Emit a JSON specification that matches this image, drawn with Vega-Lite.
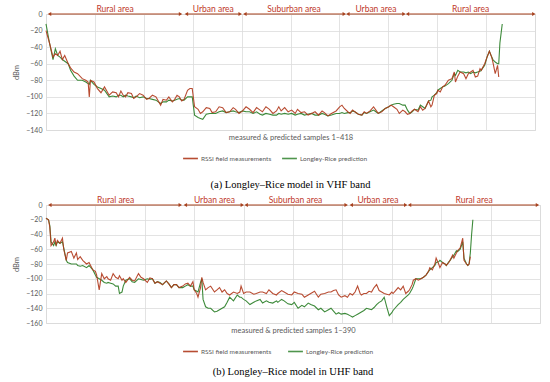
{
  "$schema": "https://vega.github.io/schema/vega-lite/v6.json",
  "padding": {"left": 12, "top": 4, "right": 5, "bottom": 2},
  "spacing": 4,
  "config": {
    "font": "Lato",
    "view": {"stroke": "#d9d9d9"},
    "axis": {"gridColor": "#dcdcdc", "gridWidth": 0.8},
    "axisY": {"grid": true, "labelOverlap": false, "ticks": false, "domain": false, "labelFontSize": 7, "labelColor": "#595959", "labelPadding": 4, "titleFontSize": 7.5, "titleFontWeight": "normal", "titleColor": "#595959", "titlePadding": 5},
    "axisX": {"labels": false, "ticks": false, "domain": false, "grid": true, "titleFontSize": 7.5, "titleFontWeight": "normal", "titleColor": "#595959", "titlePadding": 3},
    "title": {"font": "Liberation Serif", "fontSize": 10.5, "fontWeight": "normal", "color": "#000000"},
    "legend": {"orient": "none", "direction": "horizontal", "title": null, "labelFontSize": 6.5, "labelColor": "#595959", "symbolType": "stroke", "symbolStrokeWidth": 1.6, "symbolSize": 220, "columnPadding": 6, "labelOffset": 2}
  },
  "resolve": {"scale": {"color": "independent"}, "legend": {"color": "independent"}},
  "datasets": {
    "vhf": [
      {"s":0,"rssi":-20,"lr":-12},{"s":3,"rssi":-35,"lr":-35},{"s":6,"rssi":-52,"lr":-55},{"s":8,"rssi":-48,"lr":-42},{"s":10,"rssi":-50,"lr":-50},{"s":12,"rssi":-45,"lr":-52},{"s":14,"rssi":-55,"lr":-55},{"s":16,"rssi":-50,"lr":-57},{"s":19,"rssi":-60,"lr":-60},{"s":21,"rssi":-65,"lr":-68},{"s":24,"rssi":-70,"lr":-75},{"s":27,"rssi":-72,"lr":-80},{"s":31,"rssi":-78,"lr":-80},{"s":34,"rssi":-80,"lr":-82},{"s":36,"rssi":-82,"lr":-84},{"s":37,"rssi":-100,"lr":-85},{"s":38,"rssi":-80,"lr":-80},{"s":41,"rssi":-82,"lr":-85},{"s":44,"rssi":-90,"lr":-88},{"s":47,"rssi":-95,"lr":-90},{"s":50,"rssi":-88,"lr":-92},{"s":54,"rssi":-98,"lr":-100},{"s":57,"rssi":-94,"lr":-99},{"s":60,"rssi":-95,"lr":-100},{"s":62,"rssi":-100,"lr":-98},{"s":64,"rssi":-93,"lr":-98},{"s":66,"rssi":-98,"lr":-100},{"s":68,"rssi":-100,"lr":-98},{"s":70,"rssi":-95,"lr":-99},{"s":73,"rssi":-96,"lr":-100},{"s":75,"rssi":-102,"lr":-101},{"s":77,"rssi":-100,"lr":-99},{"s":80,"rssi":-96,"lr":-101},{"s":83,"rssi":-98,"lr":-100},{"s":86,"rssi":-103,"lr":-102},{"s":88,"rssi":-102,"lr":-102},{"s":91,"rssi":-98,"lr":-103},{"s":94,"rssi":-100,"lr":-104},{"s":96,"rssi":-105,"lr":-106},{"s":98,"rssi":-110,"lr":-108},{"s":100,"rssi":-103,"lr":-106},{"s":103,"rssi":-104,"lr":-106},{"s":105,"rssi":-100,"lr":-104},{"s":108,"rssi":-106,"lr":-105},{"s":110,"rssi":-103,"lr":-104},{"s":112,"rssi":-98,"lr":-103},{"s":114,"rssi":-100,"lr":-102},{"s":116,"rssi":-105,"lr":-104},{"s":118,"rssi":-103,"lr":-104},{"s":121,"rssi":-92,"lr":-100},{"s":123,"rssi":-90,"lr":-100},{"s":125,"rssi":-90,"lr":-100},{"s":127,"rssi":-112,"lr":-122},{"s":130,"rssi":-115,"lr":-125},{"s":132,"rssi":-120,"lr":-126},{"s":134,"rssi":-118,"lr":-127},{"s":137,"rssi":-113,"lr":-121},{"s":140,"rssi":-114,"lr":-120},{"s":142,"rssi":-119,"lr":-120},{"s":145,"rssi":-118,"lr":-120},{"s":148,"rssi":-112,"lr":-118},{"s":151,"rssi":-113,"lr":-117},{"s":154,"rssi":-119,"lr":-119},{"s":157,"rssi":-118,"lr":-118},{"s":160,"rssi":-113,"lr":-117},{"s":162,"rssi":-115,"lr":-118},{"s":165,"rssi":-120,"lr":-119},{"s":168,"rssi":-117,"lr":-117},{"s":171,"rssi":-112,"lr":-118},{"s":174,"rssi":-115,"lr":-118},{"s":177,"rssi":-119,"lr":-120},{"s":180,"rssi":-113,"lr":-118},{"s":183,"rssi":-116,"lr":-121},{"s":185,"rssi":-118,"lr":-122},{"s":188,"rssi":-112,"lr":-120},{"s":191,"rssi":-115,"lr":-121},{"s":194,"rssi":-120,"lr":-122},{"s":197,"rssi":-117,"lr":-122},{"s":199,"rssi":-112,"lr":-120},{"s":201,"rssi":-117,"lr":-121},{"s":204,"rssi":-113,"lr":-120},{"s":207,"rssi":-118,"lr":-121},{"s":210,"rssi":-116,"lr":-120},{"s":213,"rssi":-120,"lr":-122},{"s":215,"rssi":-115,"lr":-121},{"s":218,"rssi":-119,"lr":-120},{"s":221,"rssi":-118,"lr":-122},{"s":224,"rssi":-122,"lr":-121},{"s":227,"rssi":-120,"lr":-120},{"s":230,"rssi":-118,"lr":-122},{"s":233,"rssi":-122,"lr":-122},{"s":236,"rssi":-117,"lr":-120},{"s":238,"rssi":-119,"lr":-121},{"s":241,"rssi":-123,"lr":-123},{"s":244,"rssi":-120,"lr":-122},{"s":248,"rssi":-117,"lr":-120},{"s":251,"rssi":-112,"lr":-120},{"s":253,"rssi":-110,"lr":-119},{"s":255,"rssi":-114,"lr":-120},{"s":258,"rssi":-118,"lr":-119},{"s":260,"rssi":-120,"lr":-119},{"s":262,"rssi":-116,"lr":-117},{"s":264,"rssi":-118,"lr":-118},{"s":267,"rssi":-121,"lr":-121},{"s":270,"rssi":-122,"lr":-122},{"s":272,"rssi":-118,"lr":-119},{"s":274,"rssi":-120,"lr":-120},{"s":277,"rssi":-117,"lr":-118},{"s":280,"rssi":-112,"lr":-116},{"s":282,"rssi":-116,"lr":-118},{"s":284,"rssi":-120,"lr":-120},{"s":287,"rssi":-118,"lr":-117},{"s":290,"rssi":-114,"lr":-114},{"s":293,"rssi":-112,"lr":-112},{"s":295,"rssi":-110,"lr":-110},{"s":297,"rssi":-112,"lr":-109},{"s":300,"rssi":-115,"lr":-108},{"s":302,"rssi":-120,"lr":-108},{"s":305,"rssi":-116,"lr":-110},{"s":307,"rssi":-118,"lr":-110},{"s":309,"rssi":-121,"lr":-116},{"s":311,"rssi":-120,"lr":-120},{"s":313,"rssi":-117,"lr":-118},{"s":315,"rssi":-115,"lr":-115},{"s":318,"rssi":-118,"lr":-116},{"s":320,"rssi":-112,"lr":-110},{"s":322,"rssi":-116,"lr":-112},{"s":324,"rssi":-114,"lr":-114},{"s":326,"rssi":-108,"lr":-108},{"s":327,"rssi":-105,"lr":-105},{"s":329,"rssi":-112,"lr":-104},{"s":330,"rssi":-110,"lr":-100},{"s":332,"rssi":-98,"lr":-98},{"s":334,"rssi":-96,"lr":-95},{"s":335,"rssi":-92,"lr":-92},{"s":337,"rssi":-94,"lr":-90},{"s":339,"rssi":-88,"lr":-88},{"s":341,"rssi":-86,"lr":-87},{"s":344,"rssi":-80,"lr":-84},{"s":347,"rssi":-78,"lr":-80},{"s":349,"rssi":-70,"lr":-72},{"s":350,"rssi":-82,"lr":-74},{"s":352,"rssi":-75,"lr":-68},{"s":354,"rssi":-70,"lr":-70},{"s":357,"rssi":-72,"lr":-70},{"s":359,"rssi":-78,"lr":-71},{"s":361,"rssi":-72,"lr":-70},{"s":363,"rssi":-70,"lr":-72},{"s":365,"rssi":-68,"lr":-70},{"s":367,"rssi":-76,"lr":-71},{"s":369,"rssi":-75,"lr":-70},{"s":371,"rssi":-66,"lr":-69},{"s":372,"rssi":-68,"lr":-68},{"s":375,"rssi":-60,"lr":-62},{"s":377,"rssi":-52,"lr":-52},{"s":379,"rssi":-45,"lr":-45},{"s":381,"rssi":-52,"lr":-52},{"s":382,"rssi":-58,"lr":-55},{"s":384,"rssi":-72,"lr":-58},{"s":386,"rssi":-62,"lr":-60},{"s":387,"rssi":-76,"lr":-60},{"s":388,"rssi":null,"lr":-35},{"s":390,"rssi":null,"lr":-12}
    ],
    "uhf": [
      {"s":0,"rssi":-18,"lr":-18},{"s":2,"rssi":-20,"lr":-20},{"s":3,"rssi":-30,"lr":-28},{"s":4,"rssi":-55,"lr":-50},{"s":6,"rssi":-50,"lr":-55},{"s":7,"rssi":-45,"lr":-50},{"s":8,"rssi":-55,"lr":-55},{"s":9,"rssi":-48,"lr":-50},{"s":11,"rssi":-52,"lr":-52},{"s":13,"rssi":-45,"lr":-50},{"s":14,"rssi":-60,"lr":-58},{"s":16,"rssi":-75,"lr":-75},{"s":17,"rssi":-65,"lr":-78},{"s":20,"rssi":-63,"lr":-80},{"s":22,"rssi":-72,"lr":-80},{"s":24,"rssi":-65,"lr":-80},{"s":25,"rssi":-74,"lr":-82},{"s":27,"rssi":-70,"lr":-83},{"s":29,"rssi":-75,"lr":-82},{"s":32,"rssi":-80,"lr":-85},{"s":34,"rssi":-78,"lr":-82},{"s":37,"rssi":-88,"lr":-88},{"s":39,"rssi":-90,"lr":-95},{"s":40,"rssi":-95,"lr":-98},{"s":42,"rssi":-115,"lr":-100},{"s":44,"rssi":-93,"lr":-102},{"s":46,"rssi":-100,"lr":-105},{"s":48,"rssi":-97,"lr":-106},{"s":49,"rssi":-100,"lr":-105},{"s":51,"rssi":-102,"lr":-106},{"s":53,"rssi":-93,"lr":-107},{"s":55,"rssi":-98,"lr":-110},{"s":57,"rssi":-100,"lr":-110},{"s":58,"rssi":-96,"lr":-120},{"s":60,"rssi":-102,"lr":-118},{"s":61,"rssi":-100,"lr":-110},{"s":63,"rssi":-105,"lr":-102},{"s":66,"rssi":-98,"lr":-100},{"s":68,"rssi":-102,"lr":-104},{"s":70,"rssi":-103,"lr":-105},{"s":73,"rssi":-93,"lr":-100},{"s":75,"rssi":-98,"lr":-101},{"s":77,"rssi":-100,"lr":-102},{"s":80,"rssi":-105,"lr":-100},{"s":82,"rssi":-99,"lr":-101},{"s":84,"rssi":-100,"lr":-100},{"s":86,"rssi":-106,"lr":-106},{"s":88,"rssi":-104,"lr":-104},{"s":90,"rssi":-106,"lr":-105},{"s":92,"rssi":-108,"lr":-108},{"s":95,"rssi":-103,"lr":-103},{"s":97,"rssi":-107,"lr":-107},{"s":99,"rssi":-112,"lr":-112},{"s":101,"rssi":-108,"lr":-108},{"s":103,"rssi":-108,"lr":-108},{"s":105,"rssi":-112,"lr":-112},{"s":108,"rssi":-110,"lr":-112},{"s":110,"rssi":-107,"lr":-110},{"s":112,"rssi":-106,"lr":-108},{"s":114,"rssi":-110,"lr":-110},{"s":116,"rssi":-104,"lr":-110},{"s":117,"rssi":-115,"lr":-115},{"s":119,"rssi":-120,"lr":-117},{"s":120,"rssi":-125,"lr":-118},{"s":122,"rssi":-112,"lr":-105},{"s":123,"rssi":-98,"lr":-100},{"s":124,"rssi":-105,"lr":-128},{"s":126,"rssi":-115,"lr":-138},{"s":128,"rssi":-112,"lr":-140},{"s":130,"rssi":-110,"lr":-140},{"s":133,"rssi":-118,"lr":-145},{"s":135,"rssi":-115,"lr":-144},{"s":137,"rssi":-112,"lr":-142},{"s":139,"rssi":-118,"lr":-140},{"s":141,"rssi":-115,"lr":-138},{"s":143,"rssi":-120,"lr":-132},{"s":145,"rssi":-122,"lr":-125},{"s":148,"rssi":-118,"lr":-130},{"s":151,"rssi":-120,"lr":-122},{"s":153,"rssi":-118,"lr":-125},{"s":154,"rssi":-110,"lr":-125},{"s":156,"rssi":-120,"lr":-128},{"s":158,"rssi":-118,"lr":-130},{"s":161,"rssi":-118,"lr":-135},{"s":164,"rssi":-121,"lr":-132},{"s":166,"rssi":-120,"lr":-130},{"s":169,"rssi":-118,"lr":-128},{"s":171,"rssi":-118,"lr":-133},{"s":174,"rssi":-120,"lr":-130},{"s":176,"rssi":-115,"lr":-132},{"s":179,"rssi":-120,"lr":-133},{"s":182,"rssi":-122,"lr":-130},{"s":183,"rssi":-120,"lr":-132},{"s":186,"rssi":-116,"lr":-128},{"s":188,"rssi":-118,"lr":-130},{"s":191,"rssi":-121,"lr":-134},{"s":194,"rssi":-122,"lr":-135},{"s":196,"rssi":-118,"lr":-132},{"s":199,"rssi":-120,"lr":-140},{"s":202,"rssi":-121,"lr":-136},{"s":204,"rssi":-125,"lr":-138},{"s":207,"rssi":-122,"lr":-133},{"s":209,"rssi":-120,"lr":-135},{"s":212,"rssi":-117,"lr":-137},{"s":215,"rssi":-125,"lr":-142},{"s":217,"rssi":-121,"lr":-140},{"s":220,"rssi":-120,"lr":-145},{"s":223,"rssi":-118,"lr":-142},{"s":225,"rssi":-118,"lr":-140},{"s":227,"rssi":-116,"lr":-144},{"s":229,"rssi":-115,"lr":-148},{"s":231,"rssi":-122,"lr":-146},{"s":233,"rssi":-125,"lr":-148},{"s":236,"rssi":-123,"lr":-147},{"s":238,"rssi":-125,"lr":-148},{"s":240,"rssi":-120,"lr":-150},{"s":242,"rssi":-122,"lr":-152},{"s":244,"rssi":-118,"lr":-150},{"s":246,"rssi":-110,"lr":-148},{"s":248,"rssi":-120,"lr":-146},{"s":249,"rssi":-122,"lr":-145},{"s":251,"rssi":-120,"lr":-143},{"s":253,"rssi":-120,"lr":-140},{"s":255,"rssi":-117,"lr":-141},{"s":257,"rssi":-118,"lr":-142},{"s":259,"rssi":-112,"lr":-139},{"s":261,"rssi":-108,"lr":-135},{"s":263,"rssi":-116,"lr":-132},{"s":265,"rssi":-118,"lr":-130},{"s":267,"rssi":-120,"lr":-125},{"s":269,"rssi":-121,"lr":-138},{"s":271,"rssi":-122,"lr":-150},{"s":273,"rssi":-118,"lr":-146},{"s":274,"rssi":-120,"lr":-143},{"s":276,"rssi":-116,"lr":-139},{"s":278,"rssi":-112,"lr":-135},{"s":280,"rssi":-115,"lr":-132},{"s":282,"rssi":-110,"lr":-128},{"s":284,"rssi":-120,"lr":-125},{"s":286,"rssi":-117,"lr":-122},{"s":287,"rssi":-115,"lr":-120},{"s":289,"rssi":-108,"lr":-114},{"s":290,"rssi":-102,"lr":-110},{"s":292,"rssi":-100,"lr":-100},{"s":294,"rssi":-102,"lr":-100},{"s":296,"rssi":-100,"lr":-100},{"s":298,"rssi":-98,"lr":-98},{"s":300,"rssi":-95,"lr":-95},{"s":302,"rssi":-90,"lr":-90},{"s":303,"rssi":-85,"lr":-88},{"s":305,"rssi":-88,"lr":-85},{"s":307,"rssi":-80,"lr":-82},{"s":308,"rssi":-72,"lr":-78},{"s":310,"rssi":-80,"lr":-77},{"s":311,"rssi":-85,"lr":-75},{"s":313,"rssi":-78,"lr":-78},{"s":315,"rssi":-80,"lr":-80},{"s":316,"rssi":-82,"lr":-82},{"s":318,"rssi":-78,"lr":-77},{"s":319,"rssi":-75,"lr":-75},{"s":321,"rssi":-68,"lr":-70},{"s":322,"rssi":-72,"lr":-68},{"s":324,"rssi":-65,"lr":-62},{"s":325,"rssi":-62,"lr":-63},{"s":327,"rssi":-58,"lr":-60},{"s":329,"rssi":-45,"lr":-50},{"s":330,"rssi":-75,"lr":-72},{"s":332,"rssi":-80,"lr":-80},{"s":333,"rssi":-82,"lr":-82},{"s":334,"rssi":-80,"lr":-80},{"s":335,"rssi":-70,"lr":-65},{"s":336,"rssi":null,"lr":-40},{"s":337,"rssi":null,"lr":-20}
    ],
    "zonesA": [
      {"label":"Rural area","start":3,"end":115,"mid":59},
      {"label":"Urban area","start":120,"end":166,"mid":143},
      {"label":"Suburban area","start":170,"end":255,"mid":212},
      {"label":"Urban area","start":258,"end":306,"mid":282},
      {"label":"Rural area","start":309,"end":417,"mid":363}
    ],
    "zonesB": [
      {"label":"Rural area","start":3,"end":106,"mid":55},
      {"label":"Urban area","start":110,"end":155,"mid":133},
      {"label":"Suburban area","start":158,"end":237,"mid":197},
      {"label":"Urban area","start":241,"end":284,"mid":262},
      {"label":"Rural area","start":287,"end":388,"mid":338}
    ]
  },
  "vconcat": [
    {
      "width": 489, "height": 116,
      "title": {"text": "(a) Longley–Rice model in VHF band", "orient": "bottom", "offset": 18},
      "layer": [
        {
          "data": {"name": "vhf"},
          "mark": {"type": "line", "strokeWidth": 1.1},
          "encoding": {
            "x": {"field": "s", "type": "quantitative", "scale": {"domain": [0, 418], "nice": false},
                  "axis": {"values": [0,41.8,83.6,125.4,167.2,209,250.8,292.6,334.4,376.2,418], "title": "measured & predicted samples 1–418"}},
            "y": {"field": "lr", "type": "quantitative", "scale": {"domain": [-140, 0], "nice": false},
                  "axis": {"values": [-140,-120,-100,-80,-60,-40,-20,0], "title": "dBm"}},
            "color": {"datum": "Longley-Rice prediction", "type": "nominal", "scale": {"domain": ["RSSI field measurements", "Longley-Rice prediction"], "range": ["#b0391c", "#3d8a3a"]}, "legend": {"legendX": 136, "legendY": 136}}
          }
        },
        {
          "data": {"name": "vhf"},
          "mark": {"type": "line", "strokeWidth": 1.1, "opacity": 0.9},
          "encoding": {
            "x": {"field": "s", "type": "quantitative", "axis": {"values": [0,41.8,83.6,125.4,167.2,209,250.8,292.6,334.4,376.2,418], "title": "measured & predicted samples 1–418"}},
            "y": {"field": "rssi", "type": "quantitative", "axis": {"values": [-140,-120,-100,-80,-60,-40,-20,0], "title": "dBm"}},
            "color": {"datum": "RSSI field measurements", "type": "nominal"}
          }
        },
        {
          "data": {"name": "zonesA"},
          "mark": {"type": "rule", "color": "#a8421f", "strokeWidth": 1.2},
          "encoding": {"x": {"field": "start", "type": "quantitative", "axis": {"values": [0,41.8,83.6,125.4,167.2,209,250.8,292.6,334.4,376.2,418], "title": "measured & predicted samples 1–418"}}, "x2": {"field": "end"}, "y": {"datum": 0, "type": "quantitative", "axis": {"values": [-140,-120,-100,-80,-60,-40,-20,0], "title": "dBm"}}}
        },
        {
          "data": {"name": "zonesA"},
          "mark": {"type": "point", "shape": "triangle-left", "filled": true, "size": 16, "color": "#a8421f", "opacity": 1},
          "encoding": {"x": {"field": "start", "type": "quantitative", "axis": {"values": [0,41.8,83.6,125.4,167.2,209,250.8,292.6,334.4,376.2,418], "title": "measured & predicted samples 1–418"}}, "y": {"datum": 0, "type": "quantitative", "axis": {"values": [-140,-120,-100,-80,-60,-40,-20,0], "title": "dBm"}}}
        },
        {
          "data": {"name": "zonesA"},
          "mark": {"type": "point", "shape": "triangle-right", "filled": true, "size": 16, "color": "#a8421f", "opacity": 1},
          "encoding": {"x": {"field": "end", "type": "quantitative", "axis": {"values": [0,41.8,83.6,125.4,167.2,209,250.8,292.6,334.4,376.2,418], "title": "measured & predicted samples 1–418"}}, "y": {"datum": 0, "type": "quantitative", "axis": {"values": [-140,-120,-100,-80,-60,-40,-20,0], "title": "dBm"}}}
        },
        {
          "data": {"name": "zonesA"},
          "mark": {"type": "text", "color": "#c0392b", "fontSize": 8.5, "baseline": "alphabetic", "dy": -2},
          "encoding": {"x": {"field": "mid", "type": "quantitative", "axis": {"values": [0,41.8,83.6,125.4,167.2,209,250.8,292.6,334.4,376.2,418], "title": "measured & predicted samples 1–418"}}, "y": {"datum": 0, "type": "quantitative", "axis": {"values": [-140,-120,-100,-80,-60,-40,-20,0], "title": "dBm"}}, "text": {"field": "label"}}
        }
      ]
    },
    {
      "width": 494, "height": 118,
      "title": {"text": "(b) Longley–Rice model in UHF band", "orient": "bottom", "offset": 12},
      "layer": [
        {
          "data": {"name": "uhf"},
          "mark": {"type": "line", "strokeWidth": 1.1},
          "encoding": {
            "x": {"field": "s", "type": "quantitative", "scale": {"domain": [0, 390], "nice": false},
                  "axis": {"values": [0,39,78,117,156,195,234,273,312,351,390], "title": "measured & predicted samples 1–390"}},
            "y": {"field": "lr", "type": "quantitative", "scale": {"domain": [-160, 0], "nice": false},
                  "axis": {"values": [-160,-140,-120,-100,-80,-60,-40,-20,0], "title": "dBm"}},
            "color": {"datum": "Longley-Rice prediction", "type": "nominal", "scale": {"domain": ["RSSI field measurements", "Longley-Rice prediction"], "range": ["#b0391c", "#3d8a3a"]}, "legend": {"legendX": 136, "legendY": 138, "columnPadding": 12}}
          }
        },
        {
          "data": {"name": "uhf"},
          "mark": {"type": "line", "strokeWidth": 1.1, "opacity": 0.9},
          "encoding": {
            "x": {"field": "s", "type": "quantitative", "axis": {"values": [0,39,78,117,156,195,234,273,312,351,390], "title": "measured & predicted samples 1–390"}},
            "y": {"field": "rssi", "type": "quantitative", "axis": {"values": [-160,-140,-120,-100,-80,-60,-40,-20,0], "title": "dBm"}},
            "color": {"datum": "RSSI field measurements", "type": "nominal"}
          }
        },
        {
          "data": {"name": "zonesB"},
          "mark": {"type": "rule", "color": "#a8421f", "strokeWidth": 1.2},
          "encoding": {"x": {"field": "start", "type": "quantitative", "axis": {"values": [0,39,78,117,156,195,234,273,312,351,390], "title": "measured & predicted samples 1–390"}}, "x2": {"field": "end"}, "y": {"datum": 0, "type": "quantitative", "axis": {"values": [-160,-140,-120,-100,-80,-60,-40,-20,0], "title": "dBm"}}}
        },
        {
          "data": {"name": "zonesB"},
          "mark": {"type": "point", "shape": "triangle-left", "filled": true, "size": 16, "color": "#a8421f", "opacity": 1},
          "encoding": {"x": {"field": "start", "type": "quantitative", "axis": {"values": [0,39,78,117,156,195,234,273,312,351,390], "title": "measured & predicted samples 1–390"}}, "y": {"datum": 0, "type": "quantitative", "axis": {"values": [-160,-140,-120,-100,-80,-60,-40,-20,0], "title": "dBm"}}}
        },
        {
          "data": {"name": "zonesB"},
          "mark": {"type": "point", "shape": "triangle-right", "filled": true, "size": 16, "color": "#a8421f", "opacity": 1},
          "encoding": {"x": {"field": "end", "type": "quantitative", "axis": {"values": [0,39,78,117,156,195,234,273,312,351,390], "title": "measured & predicted samples 1–390"}}, "y": {"datum": 0, "type": "quantitative", "axis": {"values": [-160,-140,-120,-100,-80,-60,-40,-20,0], "title": "dBm"}}}
        },
        {
          "data": {"name": "zonesB"},
          "mark": {"type": "text", "color": "#c0392b", "fontSize": 8.5, "baseline": "alphabetic", "dy": -2},
          "encoding": {"x": {"field": "mid", "type": "quantitative", "axis": {"values": [0,39,78,117,156,195,234,273,312,351,390], "title": "measured & predicted samples 1–390"}}, "y": {"datum": 0, "type": "quantitative", "axis": {"values": [-160,-140,-120,-100,-80,-60,-40,-20,0], "title": "dBm"}}, "text": {"field": "label"}}
        }
      ]
    }
  ]
}
